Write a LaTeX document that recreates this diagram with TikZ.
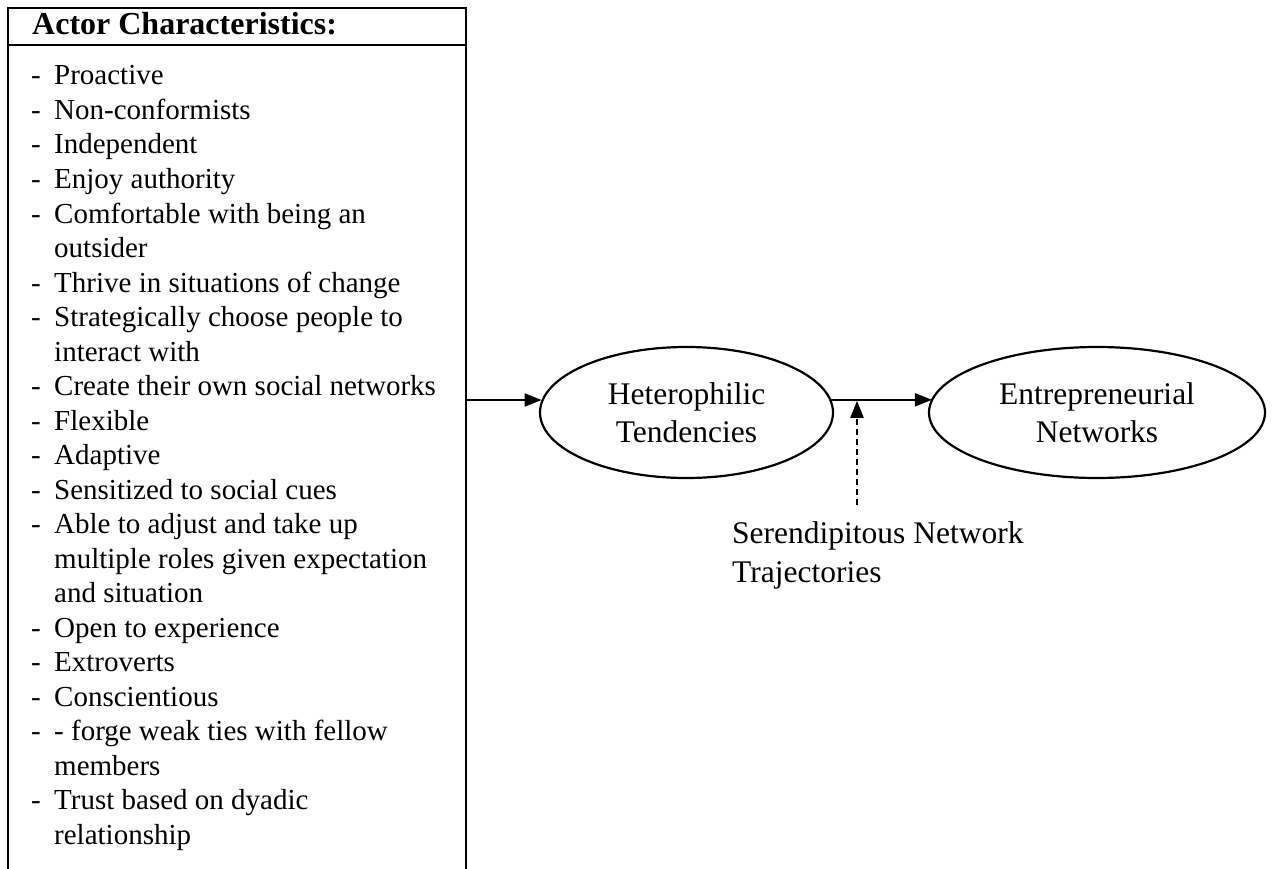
\documentclass[tikz,border=0pt]{standalone}
\usepackage{fontspec}
\setmainfont{Liberation Serif}
\usetikzlibrary{arrows.meta,shapes.geometric}
\tikzset{
  frame/.style={line width=2.2pt},
  listtxt/.style={anchor=base west, inner sep=0pt, font=\fontsize{29}{34.5}\selectfont},
  oval/.style={draw, ellipse, line width=2.2pt, inner sep=0pt, align=center, font=\fontsize{31.5}{38.5}\selectfont},
  arr/.style={line width=2.2pt, -{Triangle[length=17pt,width=13pt]}},
  dasharr/.style={arr, dash pattern=on 6pt off 4pt},
  lbl/.style={anchor=base west, inner sep=0pt, font=\fontsize{31.5}{38.5}\selectfont}
}
\begin{document}
\begin{tikzpicture}[x=1pt,y=-1pt]
\useasboundingbox (0,0) rectangle (1274,869);
% open box
\draw[frame] (8,880) -- (8,8) -- (466,8) -- (466,880);
\draw[frame] (8,45) -- (466,45);
\node[anchor=base west, inner sep=0pt, font=\bfseries\fontsize{32}{38}\selectfont] (hdr) at (32,35) {Actor Characteristics:};
% list lines
\foreach \t [count=\i] in {Proactive, Non-conformists, Independent, Enjoy authority,
  Comfortable with being an, outsider, Thrive in situations of change,
  Strategically choose people to, interact with, Create their own social networks,
  Flexible, Adaptive, Sensitized to social cues, Able to adjust and take up,
  multiple roles given expectation, and situation, Open to experience, Extroverts,
  Conscientious, - forge weak ties with fellow, members, Trust based on dyadic, relationship}
  \node[listtxt] (t\i) at (54,{85+34.5*(\i-1)}) {\t};
\foreach \i in {1,2,3,4,5,7,8,10,11,12,13,14,17,18,19,20,22}
  \node[listtxt] (d\i) at (31,{85+34.5*(\i-1)}) {-};
\coordinate (boxr) at (466,400);
% ellipses
\node[oval, minimum width=293pt, minimum height=131pt] (het) at (686.5,412.5) {Heterophilic\\Tendencies};
\node[oval, minimum width=336pt, minimum height=131pt] (ent) at (1097,412.5) {Entrepreneurial\\Networks};
% label
\node[lbl] (ser1) at (732,543) {Serendipitous Network};
\node[lbl] (ser2) at (732,582) {Trajectories};
% connectors
\draw[arr] (boxr) -- (boxr -| het.175);
\draw[arr] (het.5) -- (ent.175 |- het.5);
\coordinate (dtop) at (857,505);
\draw[dasharr] (dtop) -- ([yshift=-1pt]dtop |- het.5);
\end{tikzpicture}
\end{document}
